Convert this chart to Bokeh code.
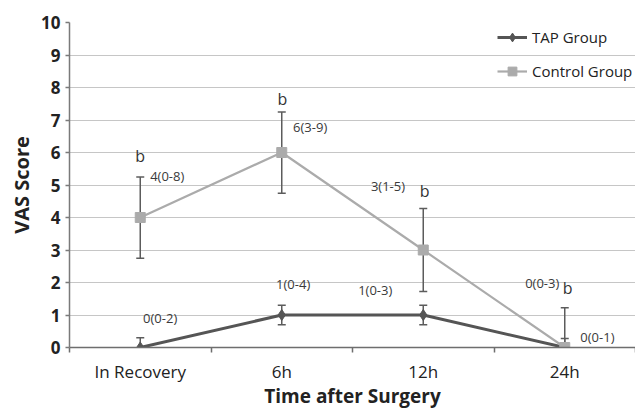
from bokeh.plotting import figure
from bokeh.models import (ColumnDataSource, FixedTicker, Whisker, TeeHead, Legend, LegendItem, Range1d)
from bokeh.core.properties import value
from bokeh.embed import file_html
from bokeh.resources import INLINE

# ---- data ----
categories = ["In Recovery", "6h", "12h", "24h"]
tap_values = [0, 1, 1, 0]
tap_err = [0.3, 0.3, 0.3, 0.28]
control_values = [4, 6, 3, 0]
control_err = [1.25, 1.25, 1.28, 1.22]

# annotations: (category index, x offset, y, text)
ann_text = ["b", "4(0-8)", "b", "6(3-9)", "3(1-5)", "b",
            "0(0-2)", "1(0-4)", "1(0-3)", "0(0-3)", "b", "0(0-1)"]
ann_cat = [0, 0, 1, 1, 1, 2, 0, 1, 1, 2, 3, 3]
ann_dx = [0.0, 0.07, 0.005, 0.08, 0.63, 0.01, 0.02, -0.04, 0.54, 0.72, 0.02, 0.11]
ann_y = [5.88, 5.29, 7.66, 6.77, 4.98, 4.83, 0.92, 1.94, 1.78, 1.97, 1.84, 0.31]

FONT = "Open Sans"
xs = [i + 0.5 for i in range(len(categories))]

p = figure(width=635, height=411, output_backend="svg", toolbar_location=None,
           x_range=Range1d(0, len(categories)), y_range=Range1d(0, 10),
           min_border_left=69, min_border_right=0, min_border_top=22, min_border_bottom=10)
p.outline_line_color = None
p.background_fill_color = "white"
p.border_fill_color = "white"

# grid
p.xgrid.grid_line_color = None
p.ygrid.grid_line_color = "#c6c6c6"
p.ygrid.grid_line_width = 1.2
p.yaxis.ticker = FixedTicker(ticks=list(range(0, 11)))

# x axis
p.xaxis.ticker = FixedTicker(ticks=xs, minor_ticks=list(range(0, len(categories) + 1)))
p.xaxis.major_label_overrides = {x: c for x, c in zip(xs, categories)}
p.xaxis.major_tick_line_alpha = 0
p.xaxis.major_tick_out = 5
p.xaxis.major_tick_in = 0
p.xaxis.minor_tick_out = 5
p.xaxis.minor_tick_in = 0
p.xaxis.minor_tick_line_color = "#6e6e6e"
p.xaxis.minor_tick_line_width = 1.5
p.xaxis.axis_line_color = "#6e6e6e"
p.xaxis.axis_line_width = 1.5
p.xaxis.major_label_text_font = FONT
p.xaxis.major_label_text_font_size = "17px"
p.xaxis.major_label_text_color = "#222222"
p.xaxis.major_label_standoff = 7
p.xaxis.axis_label = "Time after Surgery"
p.xaxis.axis_label_text_font = FONT
p.xaxis.axis_label_text_font_size = "19px"
p.xaxis.axis_label_text_font_style = "bold"
p.xaxis.axis_label_text_color = "#222222"
p.xaxis.axis_label_standoff = -3

# y axis
p.yaxis.axis_line_color = "#7a7a7a"
p.yaxis.axis_line_width = 1.5
p.yaxis.major_tick_line_color = "#7a7a7a"
p.yaxis.major_tick_line_width = 1.5
p.yaxis.major_tick_out = 4
p.yaxis.major_tick_in = 0
p.yaxis.minor_tick_line_color = None
p.yaxis.major_label_text_font = FONT
p.yaxis.major_label_text_font_size = "17px"
p.yaxis.major_label_text_font_style = "bold"
p.yaxis.major_label_text_color = "#222222"
p.yaxis.major_label_standoff = 5
p.yaxis.axis_label = "VAS Score"
p.yaxis.axis_label_text_font = FONT
p.yaxis.axis_label_text_font_size = "20px"
p.yaxis.axis_label_text_font_style = "bold"
p.yaxis.axis_label_text_color = "#222222"
p.yaxis.axis_label_standoff = 3

tap_color = "#555555"
ctrl_color = "#ababab"
err_color = "#5c5c5c"

src_tap = ColumnDataSource(dict(x=xs, y=tap_values,
                                lo=[v - e for v, e in zip(tap_values, tap_err)],
                                hi=[v + e for v, e in zip(tap_values, tap_err)]))
src_ctrl = ColumnDataSource(dict(x=xs, y=control_values,
                                 lo=[v - e for v, e in zip(control_values, control_err)],
                                 hi=[v + e for v, e in zip(control_values, control_err)]))

l_tap = p.line("x", "y", source=src_tap, line_color=tap_color, line_width=3)
m_tap = p.scatter("x", "y", source=src_tap, marker="diamond", size=11,
                  fill_color=tap_color, line_color=tap_color)
l_ctrl = p.line("x", "y", source=src_ctrl, line_color=ctrl_color, line_width=2.2)
m_ctrl = p.scatter("x", "y", source=src_ctrl, marker="square", size=10,
                   fill_color=ctrl_color, line_color=ctrl_color)

for src in (src_ctrl, src_tap):
    w = Whisker(source=src, base="x", lower="lo", upper="hi",
                line_color=err_color, line_width=1.5,
                upper_head=TeeHead(size=8, line_color=err_color, line_width=1.5),
                lower_head=TeeHead(size=8, line_color=err_color, line_width=1.5))
    p.add_layout(w)

# annotations
ann_x = [c + 0.5 + d for c, d in zip(ann_cat, ann_dx)]
is_b = [t == "b" for t in ann_text]
src_b = ColumnDataSource(dict(x=[x for x, b in zip(ann_x, is_b) if b],
                              y=[y for y, b in zip(ann_y, is_b) if b],
                              t=[t for t, b in zip(ann_text, is_b) if b]))
src_n = ColumnDataSource(dict(x=[x for x, b in zip(ann_x, is_b) if not b],
                              y=[y for y, b in zip(ann_y, is_b) if not b],
                              t=[t for t, b in zip(ann_text, is_b) if not b]))
p.text("x", "y", text="t", source=src_b, text_font=value(FONT), text_font_size="16px",
       text_color="#333333", text_align="center", text_baseline="middle")
p.text("x", "y", text="t", source=src_n, text_font=value(FONT), text_font_size="13px",
       text_color="#3a3a3a", text_align="left", text_baseline="middle")

legend = Legend(items=[LegendItem(label="TAP Group", renderers=[l_tap, m_tap]),
                       LegendItem(label="Control Group", renderers=[l_ctrl, m_ctrl])],
                location=(428, 265), border_line_color=None, background_fill_alpha=0,
                padding=0, margin=0, spacing=12, glyph_width=30, glyph_height=22,
                label_height=22, label_standoff=5,
                label_text_font=FONT, label_text_font_size="15px", label_text_color="#222222")
p.add_layout(legend)

open("out.html", "w").write(file_html(p, INLINE))
